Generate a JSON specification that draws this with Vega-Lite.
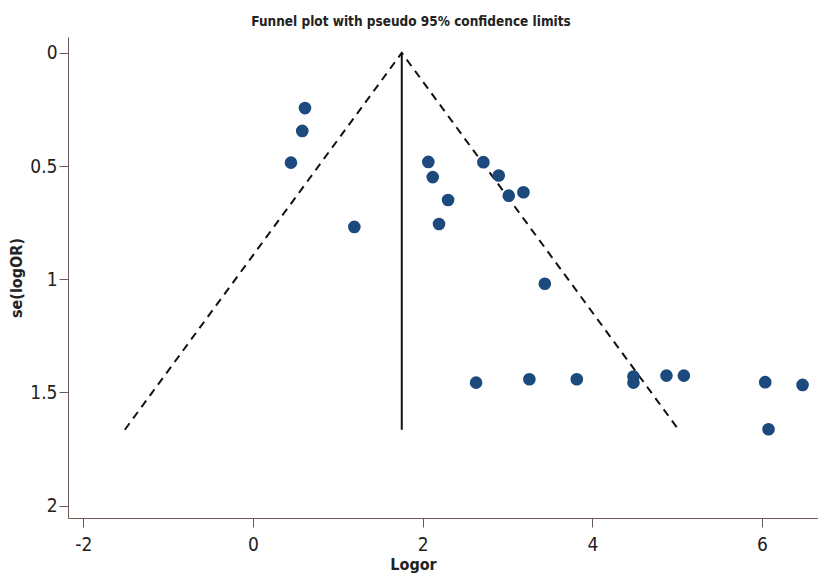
{
  "$schema": "https://vega.github.io/schema/vega-lite/v6.json",
  "width": 750,
  "height": 481,
  "autosize": "none",
  "padding": {"left": 68, "top": 37, "right": 0, "bottom": 60},
  "background": "white",
  "title": {
    "text": "Funnel plot with pseudo 95% confidence limits",
    "font": "'DejaVu Sans Condensed', 'Open Sans'",
    "fontSize": 13.5,
    "fontWeight": "bold",
    "color": "#222",
    "anchor": "middle",
    "dx": -32,
    "offset": 9
  },
  "config": {
    "view": {"stroke": null},
    "axis": {
      "labelFont": "'DejaVu Sans Condensed', 'Open Sans'",
      "labelFontSize": 19,
      "labelColor": "#222",
      "titleFont": "'DejaVu Sans Condensed', 'Open Sans'",
      "titleFontSize": 16,
      "titleFontWeight": "bold",
      "titleColor": "#222",
      "domainColor": "#6b5b55",
      "tickColor": "#6b5b55",
      "grid": false
    }
  },
  "datasets": {
    "studies": [
      {"logor": 0.613, "se": 0.244},
      {"logor": 0.581, "se": 0.345},
      {"logor": 0.448, "se": 0.485},
      {"logor": 1.195, "se": 0.769},
      {"logor": 2.067, "se": 0.482},
      {"logor": 2.119, "se": 0.549},
      {"logor": 2.30, "se": 0.650},
      {"logor": 2.193, "se": 0.756},
      {"logor": 2.716, "se": 0.483},
      {"logor": 2.897, "se": 0.542},
      {"logor": 3.015, "se": 0.631},
      {"logor": 3.188, "se": 0.616},
      {"logor": 3.44, "se": 1.02},
      {"logor": 2.63, "se": 1.457},
      {"logor": 3.258, "se": 1.442},
      {"logor": 3.817, "se": 1.442},
      {"logor": 4.485, "se": 1.430},
      {"logor": 4.485, "se": 1.457},
      {"logor": 4.874, "se": 1.426},
      {"logor": 5.079, "se": 1.426},
      {"logor": 6.038, "se": 1.455},
      {"logor": 6.478, "se": 1.467},
      {"logor": 6.077, "se": 1.663}
    ],
    "funnel": [
      {"logor": -1.51, "se": 1.665, "ord": 1},
      {"logor": 1.754, "se": 0, "ord": 2},
      {"logor": 5.017, "se": 1.665, "ord": 3}
    ],
    "center": [
      {"logor": 1.754, "se": 0, "se2": 1.665}
    ]
  },
  "layer": [
    {
      "data": {"name": "funnel"},
      "mark": {"type": "line", "color": "#111", "strokeWidth": 2, "strokeDash": [8, 6]},
      "encoding": {
        "x": {"field": "logor", "type": "quantitative", "scale": {"domain": [-2.18, 6.66], "nice": false, "zero": false},
          "axis": {"values": [-2, 0, 2, 4, 6], "labelExpr": "datum.value + ''", "title": "Logor", "tickSize": 9, "labelPadding": 8, "titleX": 345, "titlePadding": 2}},
        "y": {"field": "se", "type": "quantitative", "scale": {"domain": [-0.07, 2.055], "reverse": true, "nice": false, "zero": false},
          "axis": {"values": [0, 0.5, 1, 1.5, 2], "labelExpr": "datum.value + ''", "title": "se(logOR)", "tickSize": 9, "labelPadding": 2, "titlePadding": 5}},
        "order": {"field": "ord"}
      }
    },
    {
      "data": {"name": "center"},
      "mark": {"type": "rule", "color": "#111", "strokeWidth": 2},
      "encoding": {
        "x": {"field": "logor", "type": "quantitative"},
        "y": {"field": "se", "type": "quantitative"},
        "y2": {"field": "se2"}
      }
    },
    {
      "data": {"name": "studies"},
      "mark": {"type": "circle", "color": "#1d4a7c", "opacity": 1, "size": 160},
      "encoding": {
        "x": {"field": "logor", "type": "quantitative"},
        "y": {"field": "se", "type": "quantitative"}
      }
    }
  ]
}
